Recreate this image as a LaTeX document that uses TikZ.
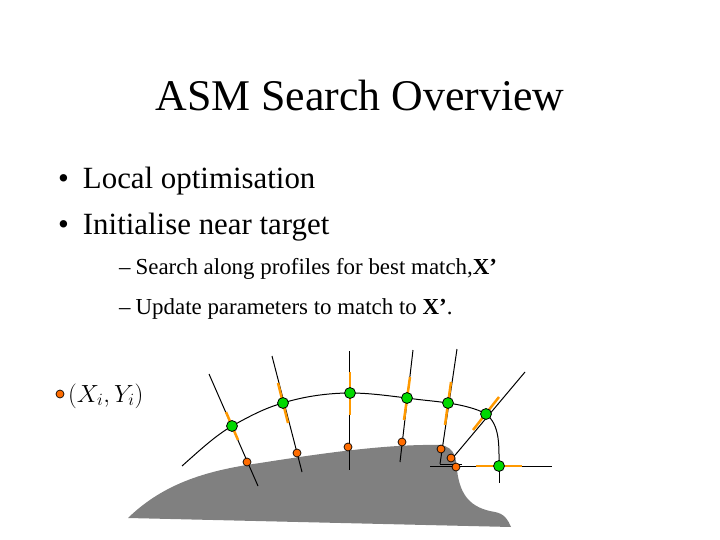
\documentclass[tikz,border=0pt]{standalone}
\usepackage{fontspec}
\setmainfont{Liberation Serif}
\begin{document}
\begin{tikzpicture}[x=1bp,y=-1bp,
  gpt/.style={circle,draw=black,fill=green!85!black,inner sep=0pt,minimum size=11pt,line width=0.8pt},
  opt/.style={circle,draw=black,fill=orange!85!red,inner sep=0pt,minimum size=8pt,line width=0.7pt},
  prof/.style={line width=1pt},
  hl/.style={line width=2.5pt,orange!80!yellow},
  txt/.style={anchor=west,inner sep=0pt}]
\useasboundingbox (0,0) rectangle (720,540);
\node (title) at (360,96) {\fontsize{44}{48}\selectfont ASM Search Overview};
\node[txt] (b1) at (58,181) {\fontsize{31}{34}\selectfont •\hspace{14pt}Local optimisation};
\node[txt] (b2) at (58,227) {\fontsize{31}{34}\selectfont •\hspace{14pt}Initialise near target};
\node[txt] (s1) at (119,269) {\fontsize{23}{28}\selectfont –\hspace{5pt}Search along profiles for best match,\textbf{X’}};
\node[txt] (s2) at (119,309) {\fontsize{23}{28}\selectfont –\hspace{5pt}Update parameters to match to \textbf{X’}.};
% shape
\fill[black!50] (128,518) .. controls (165,482) and (210,470) .. (260,463)
  .. controls (330,452) and (390,444) .. (440,445)
  .. controls (456,447) and (456,460) .. (457,470)
  .. controls (460,495) and (470,508) .. (495,512)
  .. controls (505,514) and (508,520) .. (511,527) -- cycle;
% profiles
\coordinate (p1a) at (209,374); \coordinate (p1b) at (258,486);
\coordinate (p2a) at (272,356); \coordinate (p2b) at (302,472);
\coordinate (p3a) at (349,351); \coordinate (p3b) at (349,470);
\coordinate (p4a) at (413,350); \coordinate (p4b) at (400,462);
\coordinate (p5a) at (457,349); \coordinate (p5b) at (440,464);
\coordinate (p6a) at (525,372); \coordinate (p6b) at (451,460);
\coordinate (p7a) at (430,466); \coordinate (p7b) at (552,466);
\coordinate (p7c) at (499,483);
\foreach \i in {1,...,7}{\draw[prof] (p\i a) -- (p\i b);}
\draw[prof] (440,464) -- (462,464);
\draw[hl] (226,412) -- (238,440);
\draw[hl] (278,383) -- (288,423);
\draw[hl] (350,372) -- (350,415);
\draw[hl] (410,377) -- (404,420);
\draw[hl] (451,382) -- (445,425);
\draw[hl] (499,397) -- (473,430);
\draw[hl] (476,466) -- (522,466);
\draw[prof] (499,466) -- (p7c);
% contour
\draw[prof] (182,466) .. controls (200,450) and (215,436) .. (232,426)
  .. controls (250,416) and (265,408) .. (283,403)
  .. controls (305,396) and (330,393) .. (350,393)
  .. controls (370,393) and (390,396) .. (407,398)
  .. controls (420,400) and (435,401) .. (448,403)
  .. controls (462,405) and (478,409) .. (486,414)
  .. controls (500,425) and (499,445) .. (499,466);
\foreach \n/\p in {g1/{(232,426)},g2/{(283,403)},g3/{(350,393)},g4/{(407,398)},g5/{(448,403)},g6/{(486,414)},g7/{(499,466)}}
  \node[gpt] (\n) at \p {};
\foreach \n/\p in {o1/{(247,462)},o2/{(297,453)},o3/{(348,447)},o4/{(402,442)},o5/{(441,449)},o6/{(451,458)},o7/{(456,467)},ol/{(60,394)}}
  \node[opt] (\n) at \p {};
\node[txt] (leg) at (68,396) {\fontsize{27}{30}\selectfont $(X_i,Y_i)$};
\end{tikzpicture}
\end{document}
